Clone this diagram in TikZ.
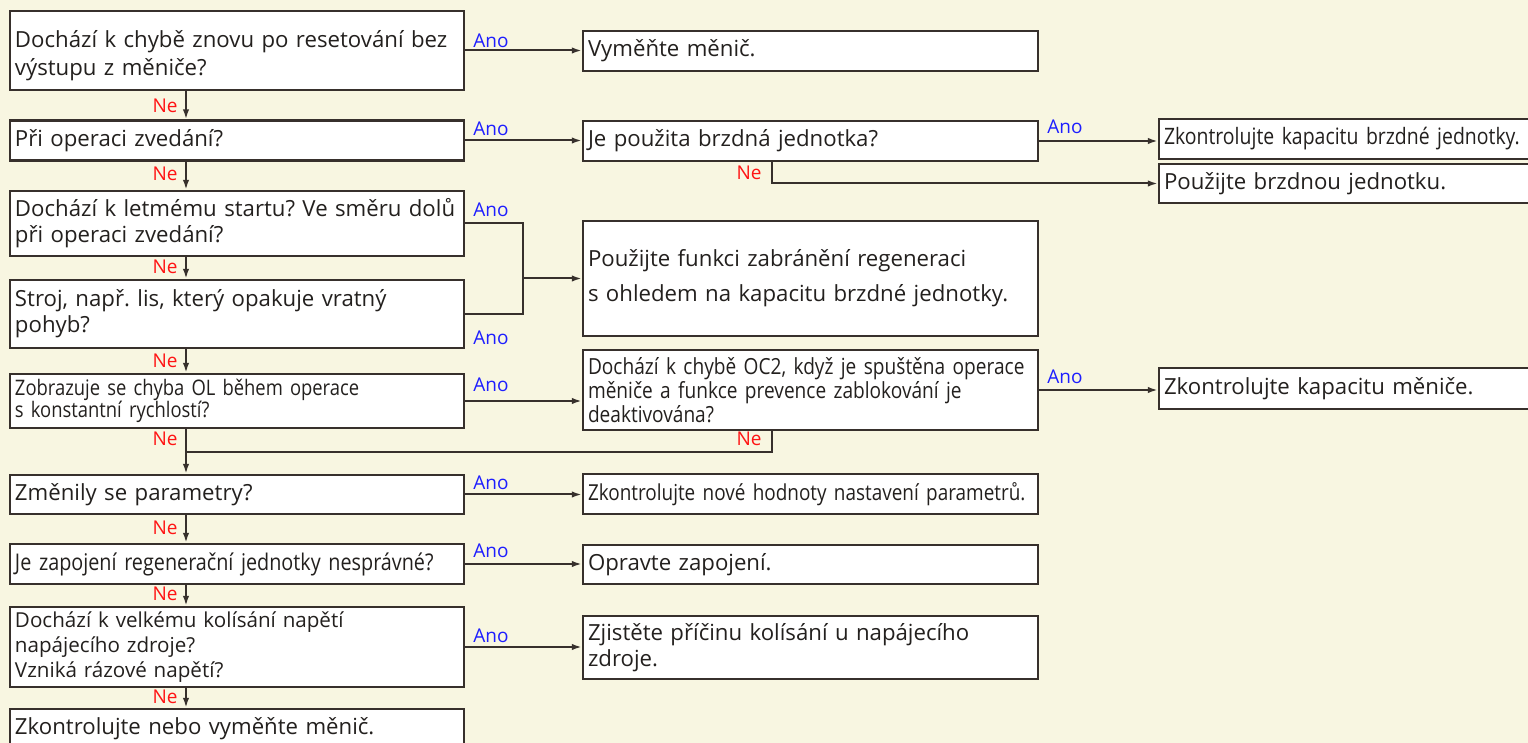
\documentclass[tikz,border=0pt]{standalone}
\usepackage{fontspec}
\setmainfont{Open Sans}
\newfontfamily\condfam[FakeStretch=0.86]{Open Sans}
\usetikzlibrary{arrows.meta}
\definecolor{bgc}{RGB}{248,246,225}
\definecolor{bordc}{RGB}{55,48,44}
\definecolor{txtc}{RGB}{35,32,30}
\definecolor{anoc}{RGB}{30,30,255}
\definecolor{nec}{RGB}{255,20,20}
\newcommand\myMain{\fontsize{11.1}{13}\selectfont}
\newcommand\myCond{\condfam\fontsize{11}{11}\selectfont}
\frenchspacing
\begin{document}
\begin{tikzpicture}[x=0.5pt,y=-0.5pt,
  box/.style={draw=bordc,line width=1.1pt,fill=white,inner xsep=2.5pt,inner ysep=0pt,align=left,text=txtc,font=\myMain},
  lbox/.style={box,minimum width=227pt,text width=222pt},
  mbox/.style={box,minimum width=227.5pt,text width=222.5pt},
  rbox/.style={box,minimum width=188pt,text width=183pt},
  cond/.style={font=\myCond},
  ano/.style={text=anoc,font=\fontsize{9.5}{10}\selectfont,inner sep=0pt},
  nel/.style={text=nec,font=\fontsize{9.5}{10}\selectfont,inner sep=0pt},
  ln/.style={draw=bordc,line width=1pt},
  arr/.style={ln,-{Latex[length=5pt,width=3.2pt]}}]
\clip (0,0) rectangle (1528,743);
\fill[bgc] (0,0) rectangle (1528,743);
\coordinate (vx) at (186,0);
\coordinate (nx) at (772,0);
\coordinate (jx) at (523,0);
\coordinate (jy) at (0,452);
% left column
\node[lbox,minimum height=39.5pt] (A) at (237,50.5) {\rule{0pt}{14pt}Dochází k chybě znovu po resetování bez\\[1pt]výstupu z měniče?};
\node[lbox,minimum height=20pt] (B) at (237,140.5) {Při operaci zvedání?};
\node[lbox,minimum height=32.5pt] (C) at (237,223.5) {Dochází k letmému startu? Ve směru dolů\\při operaci zvedání?};
\node[lbox,minimum height=34pt] (D) at (237,314) {Stroj, např. lis, který opakuje vratný\\pohyb?};
\node[lbox,font=\condfam\fontsize{10.7}{11}\selectfont,minimum height=27pt] (E) at (237,401) {Zobrazuje se chyba OL během operace\\s konstantní rychlostí?};
\node[lbox,minimum height=19.5pt] (F) at (237,494.5) {Změnily se parametry?};
\node[lbox,font=\condfam\fontsize{11.5}{12}\selectfont,minimum height=20pt] (G) at (237,564) {Je zapojení regenerační jednotky nesprávné?};
\node[lbox,minimum height=40pt,font=\fontsize{10.3}{12.5}\selectfont] (H) at (237,647) {Dochází k velkému kolísání napětí\\napájecího zdroje?\\Vzniká rázové napětí?};
\node[lbox,minimum height=20pt] (I) at (237,729) {Zkontrolujte nebo vyměňte měnič.};
% middle column
\node[mbox,minimum height=20pt] (M1) at (810.5,51) {Vyměňte měnič.};
\node[mbox,minimum height=20pt] (M2) at (810.5,141) {Je použita brzdná jednotka?};
\node[mbox,minimum height=57.5pt] (M3) at (810.5,278.5) {Použijte funkci zabránění regeneraci\\[4.5pt]s ohledem na kapacitu brzdné jednotky.};
\node[mbox,font=\condfam\fontsize{11.1}{10}\selectfont,minimum height=40pt] (M4) at (810.5,390) {Dochází k chybě OC2, když je spuštěna operace\\měniče a funkce prevence zablokování je\\deaktivována?};
\node[mbox,cond,minimum height=20pt] (M5) at (810.5,494) {Zkontrolujte nové hodnoty nastavení parametrů.};
\node[mbox,minimum height=19.5pt] (M6) at (810.5,564.5) {Opravte zapojení.};
\node[mbox,minimum height=31.5pt] (M7) at (810.5,647.5) {Zjistěte příčinu kolísání u napájecího\\zdroje.};
% right column
\node[rbox,font=\condfam\fontsize{11.3}{12}\selectfont,minimum height=20pt] (R1) at (1347,139) {Zkontrolujte kapacitu brzdné jednotky.};
\node[rbox,minimum height=19.5pt] (R2) at (1347,183.5) {Použijte brzdnou jednotku.};
\node[rbox,minimum height=20.5pt] (R3) at (1347,388.5) {Zkontrolujte kapacitu měniče.};
% vertical Ne arrows
\draw[arr] (A.south -| vx) -- (B.north -| vx);
\draw[arr] (B.south -| vx) -- (C.north -| vx);
\draw[arr] (C.south -| vx) -- (D.north -| vx);
\draw[arr] (D.south -| vx) -- (E.north -| vx);
\draw[arr] (E.south -| vx) -- (F.north -| vx);
\draw[arr] (F.south -| vx) -- (G.north -| vx);
\draw[arr] (G.south -| vx) -- (H.north -| vx);
\draw[arr] (H.south -| vx) -- (I.north -| vx);
% Ano arrows
\draw[arr] (A.east) -- (M1.west |- A.east);
\draw[arr] (B.east) -- (M2.west |- B.east);
\draw[arr] (M2.east) -- (R1.west |- M2.east);
\draw[arr] (M2.south -| nx) |- (R2.west);
\draw[ln] (C.east) -| (jx |- D.east) -- (D.east);
\draw[arr] (jx |- M3.west) -- (M3.west);
\draw[arr] (E.east) -- (M4.west |- E.east);
\draw[arr] (M4.east) -- (R3.west |- M4.east);
\draw[ln] (M4.south -| nx) |- (vx |- jy);
\draw[arr] (F.east) -- (M5.west |- F.east);
\draw[arr] (G.east) -- (M6.west |- G.east);
\draw[arr] (H.east) -- (M7.west |- H.east);
% labels
\node[ano,anchor=base west] (la1) at (473,48) {Ano};
\node[ano,anchor=base west] (la2) at (473,136) {Ano};
\node[ano,anchor=base west] (la3) at (473,217) {Ano};
\node[ano,anchor=base west] (la4) at (473,345) {Ano};
\node[ano,anchor=base west] (la5) at (473,392) {Ano};
\node[ano,anchor=base west] (la6) at (473,489) {Ano};
\node[ano,anchor=base west] (la7) at (473,558) {Ano};
\node[ano,anchor=base west] (la8) at (473,642) {Ano};
\node[ano,anchor=base west] (la9) at (1047,134) {Ano};
\node[ano,anchor=base west] (la10) at (1047,384) {Ano};
\node[nel,anchor=base east] (ln1) at (178,113) {Ne};
\node[nel,anchor=base east] (ln2) at (178,181) {Ne};
\node[nel,anchor=base east] (ln3) at (178,274) {Ne};
\node[nel,anchor=base east] (ln4) at (178,368) {Ne};
\node[nel,anchor=base east] (ln5) at (178,446) {Ne};
\node[nel,anchor=base east] (ln6) at (178,534) {Ne};
\node[nel,anchor=base east] (ln7) at (178,601) {Ne};
\node[nel,anchor=base east] (ln8) at (178,703) {Ne};
\node[nel,anchor=base east] (ln9) at (762,180) {Ne};
\node[nel,anchor=base east] (ln10) at (762,446) {Ne};
\end{tikzpicture}
\end{document}
